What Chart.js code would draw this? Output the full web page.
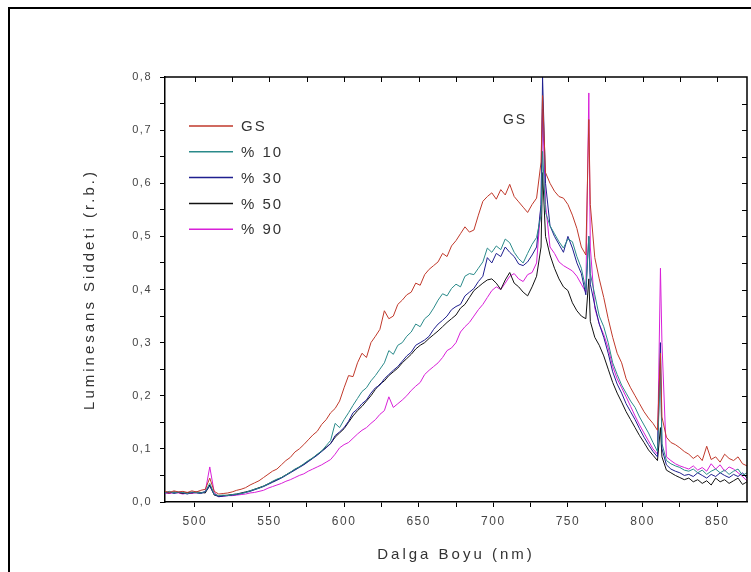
<!DOCTYPE html>
<html>
<head>
<meta charset="utf-8">
<script src="https://cdn.jsdelivr.net/npm/chart.js@4.4.1/dist/chart.umd.min.js"></script>
<style>
  html, body { margin: 0; padding: 0; background: #fff; overflow: hidden; }
  #wrap { position: relative; width: 751px; height: 572px; }
  #frame { position: absolute; left: 8px; top: 7px; width: 800px; height: 700px; border: 2px solid #000; box-sizing: border-box; }
  canvas { position: absolute; left: 0; top: 0; }
</style>
</head>
<body>
<div id="wrap">
  <div id="frame"></div>
  <canvas id="chart" width="751" height="572"></canvas>
</div>
<script>
// wavelength (nm) shared by all spectra
const wavelengths = [
  480, 483, 486, 489, 492, 495, 498, 501, 504, 507,
  510, 513, 516, 519, 522, 525, 528, 531, 534, 537,
  540, 543, 546, 549, 552, 555, 558, 561, 564, 567,
  570, 573, 576, 579, 582, 585, 588, 591, 594, 597,
  600, 603, 606, 609, 612, 615, 618, 621, 624, 627,
  630, 633, 636, 639, 642, 645, 648, 651, 654, 657,
  660, 663, 666, 669, 672, 675, 678, 681, 684, 687,
  690, 693, 696, 699, 702, 705, 708, 711, 714, 717,
  720, 723, 726, 729, 732, 733, 735, 738, 741, 744,
  747, 750, 753, 756, 759, 762, 764, 765, 768, 771,
  774, 777, 780, 783, 786, 789, 792, 795, 798, 801,
  804, 807, 810, 812, 813, 816, 819, 822, 825, 828,
  831, 834, 837, 840, 843, 846, 849, 852, 855, 858,
  861, 864, 867, 870
];

const gs = [
  0.020, 0.018, 0.021, 0.019, 0.020, 0.018, 0.021, 0.019, 0.022, 0.024,
  0.045, 0.020, 0.015, 0.016, 0.017, 0.019, 0.022, 0.024, 0.027, 0.032,
  0.036, 0.040, 0.046, 0.052, 0.058, 0.062, 0.070, 0.078, 0.084, 0.094,
  0.100, 0.108, 0.117, 0.126, 0.133, 0.146, 0.155, 0.168, 0.176, 0.190,
  0.215, 0.238, 0.236, 0.262, 0.280, 0.272, 0.300, 0.312, 0.325, 0.360,
  0.345, 0.350, 0.372, 0.380, 0.390, 0.395, 0.412, 0.408, 0.428, 0.438,
  0.445, 0.452, 0.468, 0.462, 0.482, 0.492, 0.505, 0.518, 0.508, 0.512,
  0.540, 0.566, 0.575, 0.582, 0.570, 0.588, 0.578, 0.598, 0.575, 0.565,
  0.555, 0.545, 0.560, 0.572, 0.640, 0.765, 0.620, 0.600, 0.585, 0.575,
  0.572, 0.560, 0.540, 0.515, 0.480, 0.465, 0.720, 0.560, 0.460, 0.420,
  0.385, 0.345, 0.310, 0.280, 0.262, 0.232, 0.215, 0.200, 0.185, 0.170,
  0.158, 0.148, 0.135, 0.280, 0.160, 0.122, 0.112, 0.108, 0.102, 0.095,
  0.090, 0.082, 0.088, 0.078, 0.105, 0.080, 0.085, 0.075, 0.090, 0.082,
  0.078, 0.085, 0.072, 0.068
];

const p10 = [
  0.018, 0.020, 0.017, 0.019, 0.018, 0.016, 0.019, 0.018, 0.017, 0.020,
  0.035, 0.015, 0.012, 0.013, 0.012, 0.014, 0.015, 0.016, 0.018, 0.021,
  0.024, 0.026, 0.030, 0.034, 0.039, 0.043, 0.046, 0.051, 0.056, 0.062,
  0.066, 0.072, 0.078, 0.083, 0.090, 0.096, 0.106, 0.116, 0.148, 0.140,
  0.155, 0.168, 0.182, 0.195, 0.208, 0.215, 0.228, 0.238, 0.250, 0.262,
  0.285, 0.278, 0.295, 0.300, 0.312, 0.320, 0.335, 0.330, 0.345, 0.352,
  0.365, 0.380, 0.392, 0.388, 0.402, 0.410, 0.405, 0.425, 0.430, 0.428,
  0.440, 0.452, 0.478, 0.470, 0.482, 0.475, 0.495, 0.488, 0.470, 0.458,
  0.450, 0.468, 0.485, 0.498, 0.540, 0.660, 0.545, 0.520, 0.505, 0.490,
  0.478, 0.495, 0.490, 0.462, 0.440, 0.400, 0.500, 0.430, 0.390, 0.350,
  0.330, 0.300, 0.262, 0.240, 0.220, 0.205, 0.190, 0.178, 0.160, 0.145,
  0.130, 0.112, 0.095, 0.250, 0.110, 0.078, 0.072, 0.068, 0.065, 0.060,
  0.058, 0.062, 0.055, 0.060, 0.052, 0.058, 0.062, 0.055, 0.060, 0.052,
  0.058, 0.062, 0.050, 0.055
];

const p30 = [
  0.017, 0.019, 0.016, 0.018, 0.017, 0.015, 0.018, 0.017, 0.016, 0.019,
  0.030, 0.014, 0.010, 0.011, 0.012, 0.013, 0.014, 0.016, 0.018, 0.020,
  0.023, 0.026, 0.029, 0.033, 0.037, 0.041, 0.045, 0.050, 0.055, 0.060,
  0.065, 0.070, 0.076, 0.082, 0.088, 0.095, 0.102, 0.110, 0.125, 0.132,
  0.140, 0.152, 0.168, 0.175, 0.185, 0.192, 0.205, 0.215, 0.220, 0.232,
  0.240, 0.248, 0.255, 0.265, 0.275, 0.282, 0.295, 0.300, 0.305, 0.312,
  0.325, 0.335, 0.342, 0.350, 0.362, 0.368, 0.372, 0.388, 0.395, 0.402,
  0.415, 0.425, 0.460, 0.450, 0.468, 0.462, 0.480, 0.470, 0.462, 0.448,
  0.445, 0.452, 0.465, 0.480, 0.560, 0.800, 0.600, 0.520, 0.500, 0.485,
  0.470, 0.500, 0.478, 0.450, 0.430, 0.390, 0.500, 0.410, 0.370, 0.335,
  0.310, 0.280, 0.245, 0.222, 0.205, 0.185, 0.170, 0.155, 0.138, 0.122,
  0.108, 0.095, 0.085, 0.300, 0.100, 0.070, 0.062, 0.058, 0.055, 0.050,
  0.052, 0.048, 0.055, 0.050, 0.045, 0.052, 0.048, 0.055, 0.050, 0.046,
  0.052, 0.048, 0.055, 0.045
];

const p50 = [
  0.018, 0.017, 0.019, 0.018, 0.016, 0.018, 0.017, 0.019, 0.018, 0.017,
  0.032, 0.013, 0.011, 0.012, 0.013, 0.014, 0.015, 0.017, 0.019, 0.021,
  0.024, 0.027, 0.030, 0.034, 0.038, 0.042, 0.046, 0.051, 0.056, 0.061,
  0.066, 0.071, 0.077, 0.083, 0.089, 0.096, 0.103, 0.110, 0.122, 0.130,
  0.138, 0.150, 0.162, 0.172, 0.180, 0.190, 0.200, 0.212, 0.222, 0.228,
  0.238, 0.245, 0.252, 0.262, 0.270, 0.278, 0.288, 0.295, 0.300, 0.308,
  0.315, 0.322, 0.330, 0.338, 0.345, 0.352, 0.365, 0.372, 0.385, 0.398,
  0.405, 0.412, 0.418, 0.420, 0.412, 0.400, 0.418, 0.432, 0.412, 0.405,
  0.395, 0.388, 0.405, 0.425, 0.480, 0.620, 0.500, 0.465, 0.440, 0.420,
  0.405, 0.398, 0.375, 0.360, 0.350, 0.345, 0.420, 0.340, 0.310, 0.295,
  0.275, 0.250, 0.225, 0.205, 0.188, 0.170, 0.155, 0.140, 0.125, 0.112,
  0.098, 0.088, 0.078, 0.140, 0.085, 0.060, 0.055, 0.050, 0.046, 0.042,
  0.045, 0.038, 0.042, 0.035, 0.040, 0.032, 0.045, 0.038, 0.042, 0.035,
  0.040, 0.045, 0.033, 0.038
];

const p90 = [
  0.017, 0.016, 0.018, 0.017, 0.015, 0.017, 0.016, 0.018, 0.017, 0.020,
  0.066, 0.018, 0.010, 0.011, 0.012, 0.012, 0.013, 0.014, 0.015, 0.017,
  0.018, 0.020, 0.022, 0.026, 0.029, 0.032, 0.035, 0.039, 0.042, 0.046,
  0.050, 0.053, 0.058, 0.062, 0.066, 0.070, 0.075, 0.080, 0.090, 0.102,
  0.108, 0.112, 0.120, 0.128, 0.135, 0.140, 0.148, 0.155, 0.165, 0.172,
  0.198, 0.178, 0.185, 0.192, 0.200, 0.210, 0.218, 0.225, 0.240, 0.248,
  0.255, 0.262, 0.272, 0.285, 0.290, 0.300, 0.320, 0.330, 0.338, 0.350,
  0.362, 0.372, 0.385, 0.398, 0.405, 0.400, 0.412, 0.425, 0.430, 0.420,
  0.415, 0.428, 0.432, 0.450, 0.560, 0.740, 0.560, 0.480, 0.468, 0.452,
  0.445, 0.440, 0.435, 0.425, 0.410, 0.395, 0.770, 0.480, 0.365, 0.335,
  0.315, 0.290, 0.255, 0.232, 0.215, 0.198, 0.180, 0.162, 0.145, 0.130,
  0.115, 0.100, 0.090, 0.440, 0.300, 0.085, 0.078, 0.072, 0.068, 0.065,
  0.062, 0.068, 0.060, 0.065, 0.058, 0.072, 0.062, 0.070, 0.058, 0.066,
  0.062, 0.055, 0.048, 0.040
];

const seriesLabels = ['GS', '% 10', '% 30', '% 50', '% 90'];
const seriesColors = ['#c0392b', '#2a8a8a', '#1f1f8f', '#111111', '#d81fd8'];
const seriesValues = [gs, p10, p30, p50, p90];

// tick marks every 25 nm, labels every 50 nm
const xTickValues = [500, 525, 550, 575, 600, 625, 650, 675, 700, 725, 750, 775, 800, 825, 850];
const xTickLabels = ['500', '', '550', '', '600', '', '650', '', '700', '', '750', '', '800', '', '850'];

const xTitle = 'Dalga Boyu (nm)';
const yTitle = 'Luminesans Siddeti (r.b.)';
const peakNote = 'GS';

const toPoints = vals => vals.map((v, i) => ({ x: wavelengths[i], y: v }));

// extra drawing: inward ticks on top/right, closed box, titles, legend
const decorPlugin = {
  id: 'decor',
  beforeDraw(chart) {
    chart.ctx.letterSpacing = '1.5px';
  },
  afterDraw(chart) {
    const ctx = chart.ctx;
    const { left, right, top, bottom } = chart.chartArea;
    const x = chart.scales.x, y = chart.scales.y;
    ctx.save();
    ctx.strokeStyle = '#000';
    ctx.lineWidth = 1.5;
    ctx.beginPath();
    ctx.moveTo(left, top); ctx.lineTo(right, top); ctx.lineTo(right, bottom);
    ctx.stroke();
    ctx.lineWidth = 1;
    x.ticks.forEach(t => {
      if (t.value <= x.min || t.value >= x.max) return;
      const px = Math.round(x.getPixelForValue(t.value)) + 0.5;
      ctx.beginPath(); ctx.moveTo(px, top); ctx.lineTo(px, top + 5); ctx.stroke();
    });
    y.ticks.forEach(t => {
      if (t.value <= y.min || t.value >= y.max) return;
      const py = Math.round(y.getPixelForValue(t.value)) + 0.5;
      ctx.beginPath(); ctx.moveTo(right, py); ctx.lineTo(right - 5, py); ctx.stroke();
    });

    ctx.letterSpacing = '3px';
    ctx.fillStyle = '#333';
    ctx.font = '15px Arial, "Liberation Sans", sans-serif';
    ctx.textAlign = 'center';
    ctx.textBaseline = 'middle';
    ctx.fillText(xTitle, (left + right) / 2, 555);
    ctx.save();
    ctx.translate(90, (top + bottom) / 2);
    ctx.rotate(-Math.PI / 2);
    ctx.fillText(yTitle, 0, 0);
    ctx.restore();

    ctx.letterSpacing = '2px';
    ctx.font = '14px Arial, "Liberation Sans", sans-serif';
    ctx.fillText(peakNote, 515, 120);

    // legend
    ctx.textAlign = 'left';
    ctx.font = '15px Arial, "Liberation Sans", sans-serif';
    chart.data.datasets.forEach((ds, i) => {
      const ly = 126 + i * 25.8;
      ctx.strokeStyle = ds.borderColor;
      ctx.lineWidth = 1.5;
      ctx.beginPath(); ctx.moveTo(189, ly); ctx.lineTo(233, ly); ctx.stroke();
      ctx.fillStyle = '#333';
      ctx.fillText(ds.label, 241, ly + 1);
    });
    ctx.restore();
    ctx.letterSpacing = '0px';
  }
};

const padLeft = 60, padBottom = 20;

new Chart(document.getElementById('chart'), {
  type: 'line',
  data: {
    datasets: seriesValues.map((vals, i) => ({
      label: seriesLabels[i],
      data: toPoints(vals),
      borderColor: seriesColors[i],
      borderWidth: 1,
      pointRadius: 0,
      tension: 0,
      fill: false
    }))
  },
  options: {
    responsive: false,
    animation: false,
    layout: { padding: { top: 77, right: 4, left: padLeft, bottom: padBottom } },
    plugins: { legend: { display: false }, tooltip: { enabled: false } },
    scales: {
      x: {
        type: 'linear',
        min: 480,
        max: 870,
        afterBuildTicks: s => { s.ticks = xTickValues.map(v => ({ value: v })); },
        afterFit: s => { s.height = 572 - padBottom - 502; },
        border: { color: '#000', width: 1.5 },
        grid: { drawOnChartArea: false, color: '#000', tickLength: 5, tickWidth: 1 },
        ticks: {
          autoSkip: false,
          maxRotation: 0,
          padding: 7,
          color: '#444',
          font: { family: 'Arial, "Liberation Sans", sans-serif', size: 12 },
          callback: (v, i) => xTickLabels[i]
        }
      },
      y: {
        min: 0,
        max: 0.8,
        afterFit: s => { s.width = 165 - padLeft; },
        border: { color: '#000', width: 1.5 },
        grid: { drawOnChartArea: false, color: '#000', tickLength: 5, tickWidth: 1 },
        ticks: {
          stepSize: 0.05,
          autoSkip: false,
          padding: 8,
          color: '#444',
          font: { family: 'Arial, "Liberation Sans", sans-serif', size: 11 },
          callback: v => (Math.round(v * 100) % 10 === 0 ? v.toFixed(1).replace('.', ',') : '')
        }
      }
    }
  },
  plugins: [decorPlugin]
});
</script>
</body>
</html>
